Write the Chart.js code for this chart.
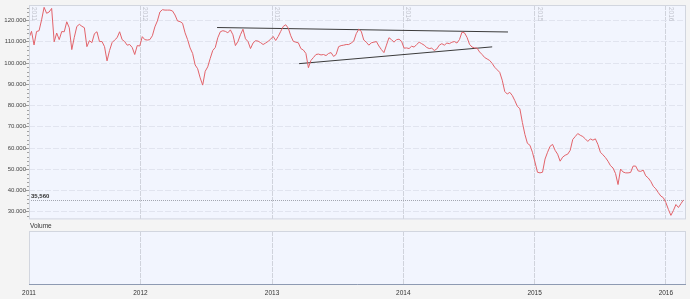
<!DOCTYPE html>
<html>
<head>
<meta charset="utf-8">
<script src="https://cdn.jsdelivr.net/npm/chart.js@4.4.0/dist/chart.umd.min.js"></script>
<style>
  body { margin: 0; background: #f4f4f4; }
  #wrap { position: relative; width: 690px; height: 299px; }
  #main { position: absolute; left: 0; top: 0; }
  #volume { position: absolute; left: 0; top: 223px; }
</style>
</head>
<body>
<div id="wrap">
  <canvas id="main" width="690" height="223"></canvas>
  <canvas id="volume" width="690" height="76"></canvas>
</div>
<script>
// weekly closes, first week ending 25 Feb 2011
const firstWeek = Date.UTC(2011, 1, 25);
const lastDay = Date.UTC(2016, 1, 26);
const prices = [
  111.9, 114.9, 108.5, 114.8, 115.2, 120.3, 126.2, 123.4, 124.0, 125.7,
  110.0, 114.1, 111.0, 114.8, 114.7, 119.4, 116.6, 106.3, 112.1, 117.2,
  118.2, 117.3, 116.6, 107.7, 110.5, 109.6, 113.8, 114.7, 110.1, 110.1,
  107.7, 101.0, 105.9, 109.6, 110.8, 111.9, 114.7, 111.0, 110.1, 108.4,
  108.7, 107.3, 104.0, 108.2, 108.0, 112.4, 111.0, 110.8, 111.0, 112.8,
  117.0, 119.8, 124.0, 125.1, 124.9, 124.9, 124.9, 124.5, 122.6, 119.8,
  119.5, 118.7, 114.2, 111.0, 107.1, 104.5, 99.1, 97.3, 93.0, 89.6,
  96.1, 98.2, 102.2, 105.9, 107.3, 111.9, 114.7, 115.2, 114.9, 114.2,
  115.6, 113.3, 108.2, 110.1, 113.3, 115.9, 111.4, 110.1, 106.8, 109.4,
  110.5, 110.3, 109.6, 108.7, 109.4, 110.2, 111.2, 112.5, 110.6, 112.5,
  114.9, 117.2, 118.0, 116.4, 112.8, 110.2, 109.8, 109.5, 106.8, 106.1,
  104.5, 97.8, 101.2, 102.6, 104.0, 104.2, 103.8, 104.0, 103.5, 104.5,
  104.9, 103.1, 104.0, 107.7, 108.2, 108.4, 108.7, 108.7, 109.4, 110.3,
  113.8, 115.9, 114.9, 110.8, 109.8, 108.4, 109.5, 109.8, 110.1, 108.0,
  106.3, 104.9, 108.4, 111.9, 111.0, 109.8, 111.0, 111.2, 110.2, 107.0,
  107.1, 106.8, 107.9, 107.5, 108.7, 109.8, 109.1, 108.4, 107.3, 106.8,
  107.0, 105.9, 106.6, 108.4, 109.1, 108.4, 109.4, 109.1, 109.8, 110.1,
  109.4, 111.0, 114.5, 114.2, 112.1, 108.8, 107.5, 107.1, 107.0, 105.2,
  104.0, 102.6, 101.9, 101.2, 99.8, 98.0, 96.8, 95.6, 91.9, 86.6,
  85.4, 86.2, 84.7, 82.3, 79.6, 78.5, 72.0, 66.4, 62.2, 61.3,
  58.0, 53.4, 48.6, 48.3, 48.6, 54.8, 58.0, 60.8, 61.7, 58.9,
  57.1, 53.8, 55.7, 56.6, 57.1, 58.9, 64.0, 65.4, 66.8, 66.0,
  65.4, 64.3, 63.1, 64.3, 63.7, 64.3, 61.7, 58.0, 56.8, 55.5,
  53.8, 51.7, 50.6, 48.0, 42.8, 50.1, 48.7, 48.3, 48.3, 48.5,
  51.5, 51.5, 49.2, 49.0, 49.6, 46.9, 45.9, 44.3, 42.0, 40.8,
  39.0, 37.4, 36.6, 34.3, 31.1, 28.3, 30.6, 33.4, 32.0, 33.8,
  35.56
];
const lastPrice = 35.56;

// hand drawn trend lines
const upperDates = ['2012-08-01', '2014-10-19'];
const upperValues = [116.7, 114.6];
const lowerDates = ['2013-03-17', '2014-09-05'];
const lowerValues = [99.7, 107.6];

const yearLabels = ['2011', '2012', '2013', '2014', '2015', '2016'];
const yTicks = [30, 40, 50, 60, 70, 80, 90, 100, 110, 120];
const yMin = 26.4, yMax = 127.3;

const WEEK = 7 * 864e5;
const font = 'Liberation Sans, Arial, sans-serif';
const yearTicks = yearLabels.map(y => Math.max(Date.UTC(+y, 0, 1), firstWeek));
const pricePoints = prices.map((p, i) => ({ x: firstWeek + i * WEEK, y: p }));
const toPoints = (dates, vals) => dates.map((d, i) => ({ x: Date.parse(d), y: vals[i] }));

const xScale = extra => Object.assign({
  type: 'linear',
  min: firstWeek,
  max: lastDay,
  afterBuildTicks: s => { s.ticks = yearTicks.map(v => ({ value: v })); },
  grid: { color: '#d0d3dc', drawTicks: false },
  border: { display: false, dash: [5, 1] }
}, extra);

const panel = {
  id: 'panel',
  beforeDraw(chart) {
    const a = chart.chartArea, ctx = chart.ctx;
    ctx.save();
    ctx.fillStyle = '#f2f5fe';
    ctx.fillRect(a.left, a.top, a.right - a.left, a.bottom - a.top);
    ctx.restore();
  },
  afterDraw(chart) {
    const a = chart.chartArea, ctx = chart.ctx;
    ctx.save();
    ctx.strokeStyle = '#d2d6df';
    ctx.lineWidth = 1;
    ctx.strokeRect(a.left + 0.5, a.top + 0.5, a.right - a.left - 1, a.bottom - a.top - 1);
    ctx.restore();
  }
};

// year names inside the price panel, minor ticks, last price line
const priceExtras = {
  id: 'priceExtras',
  beforeDatasetsDraw(chart) {
    const ctx = chart.ctx, a = chart.chartArea;
    const x = chart.scales.x, y = chart.scales.y;
    ctx.save();
    ctx.font = '6.5px ' + font;
    ctx.fillStyle = '#c0c3cc';
    ctx.textBaseline = 'bottom';
    yearTicks.forEach((v, i) => {
      ctx.save();
      ctx.translate(Math.round(x.getPixelForValue(v)) + 2, a.top + 2);
      ctx.rotate(Math.PI / 2);
      ctx.fillText(yearLabels[i], 0, 0);
      ctx.restore();
    });
    const py = Math.round(y.getPixelForValue(lastPrice)) + 0.5;
    ctx.strokeStyle = '#a3a6b0';
    ctx.setLineDash([1, 1]);
    ctx.beginPath();
    ctx.moveTo(a.left, py);
    ctx.lineTo(a.right, py);
    ctx.stroke();
    ctx.setLineDash([]);
    ctx.fillStyle = '#333';
    ctx.font = 'bold 6px ' + font;
    ctx.textBaseline = 'bottom';
    ctx.fillText(lastPrice.toFixed(3).replace('.', ','), a.left + 2, py - 1);
    ctx.strokeStyle = '#a0a0a0';
    ctx.beginPath();
    for (let v = 28; v < yMax; v += 2) {
      if (v % 10 === 0) continue;
      const ty = Math.round(y.getPixelForValue(v)) + 0.5;
      ctx.moveTo(a.left - 2, ty);
      ctx.lineTo(a.left, ty);
    }
    ctx.stroke();
    ctx.restore();
  }
};

new Chart('main', {
  type: 'line',
  data: {
    datasets: [
      { data: pricePoints, borderColor: '#e2636a', borderWidth: 1, pointRadius: 0 },
      { data: toPoints(upperDates, upperValues), borderColor: '#3b3b3b', borderWidth: 1, pointRadius: 0 },
      { data: toPoints(lowerDates, lowerValues), borderColor: '#3b3b3b', borderWidth: 1, pointRadius: 0 }
    ]
  },
  options: {
    responsive: false,
    animation: false,
    layout: { padding: { top: 5, right: 4, bottom: 1, left: 0 } },
    plugins: { legend: { display: false }, tooltip: { enabled: false } },
    scales: {
      x: xScale({ ticks: { display: false }, afterFit: s => { s.height = 0; } }),
      y: {
        min: yMin,
        max: yMax,
        afterBuildTicks: s => { s.ticks = yTicks.map(v => ({ value: v })); },
        afterFit: s => { s.width = 29; },
        ticks: { font: { size: 6, family: font }, color: '#444', padding: 0, callback: v => v.toFixed(3) },
        grid: { color: '#e1e4ef', tickColor: '#9a9a9a', tickLength: 3 },
        border: { display: false, dash: [6, 2] }
      }
    }
  },
  plugins: [panel, priceExtras]
});

const volumeExtras = {
  id: 'volumeExtras',
  afterDraw(chart) {
    const ctx = chart.ctx, a = chart.chartArea;
    ctx.save();
    ctx.fillStyle = '#333';
    ctx.font = '6.5px ' + font;
    ctx.textBaseline = 'middle';
    ctx.fillText('Volume', a.left + 1, 3.5);
    ctx.strokeStyle = '#8e9ab2';
    ctx.beginPath();
    ctx.moveTo(a.left, a.bottom - 0.5);
    ctx.lineTo(a.right, a.bottom - 0.5);
    ctx.stroke();
    ctx.restore();
  }
};

new Chart('volume', {
  type: 'line',
  data: { datasets: [] },
  options: {
    responsive: false,
    animation: false,
    layout: { padding: { top: 8, right: 4, bottom: 0, left: 0 } },
    plugins: { legend: { display: false }, tooltip: { enabled: false } },
    scales: {
      x: xScale({
        afterFit: s => { s.height = 14; },
        ticks: {
          autoSkip: false, maxRotation: 0, padding: 4,
          font: { size: 6.5, family: font }, color: '#333',
          callback: (v, i) => yearLabels[i]
        }
      }),
      y: {
        afterFit: s => { s.width = 29; },
        ticks: { display: false },
        grid: { display: false },
        border: { display: false }
      }
    }
  },
  plugins: [panel, volumeExtras]
});
</script>
</body>
</html>
